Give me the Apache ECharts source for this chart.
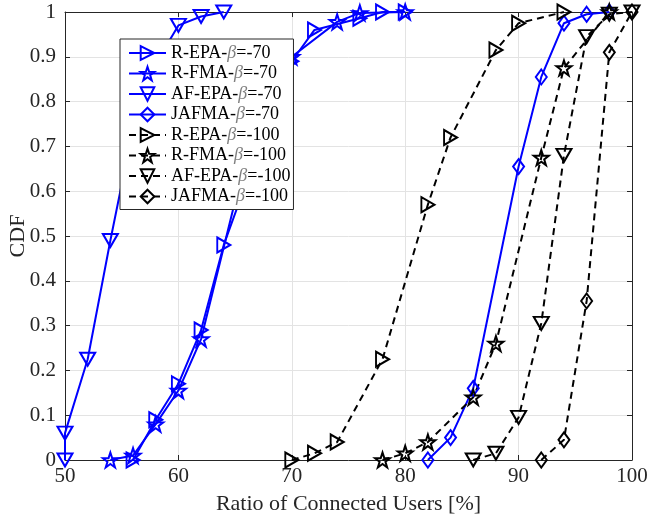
<!DOCTYPE html>
<html>
<head>
<meta charset="utf-8">
<script src="https://cdn.jsdelivr.net/npm/echarts@6/dist/echarts.min.js"></script>
<style>
    html, body { margin: 0; padding: 0; background: #fff; }
    #chart { width: 647px; height: 519px; }
</style>
</head>
<body>
<div id="chart"></div>
<script>
// tick labels
var xTicks = [50, 60, 70, 80, 90, 100];
var yTicks = [0, 0.1, 0.2, 0.3, 0.4, 0.5, 0.6, 0.7, 0.8, 0.9, 1];

// beta = -70 (blue, solid)
var rEpa70 = [[56, 0], [58, 0.09], [60, 0.17], [62, 0.29], [64, 0.48], [66, 0.62], [68, 0.78], [70, 0.89], [72, 0.96], [76, 0.986], [78, 1.0], [80, 1.0]];
var rFma70 = [[54, 0], [56, 0.01], [58, 0.08], [60, 0.155], [62, 0.27], [66, 0.68], [70, 0.9], [74, 0.978], [76, 0.998], [80, 1.0]];
var afEpa70 = [[50, 0], [50, 0.06], [52, 0.225], [54, 0.49], [56, 0.74], [58, 0.885], [60, 0.97], [62, 0.99], [64, 1.0]];
var jafma70 = [[82, 0], [84, 0.05], [86, 0.16], [90, 0.655], [92, 0.855], [94, 0.975], [96, 0.995], [98, 1.0]];

// beta = -100 (black, dashed)
var rEpa100 = [[70, 0], [72, 0.015], [74, 0.04], [78, 0.225], [82, 0.57], [84, 0.72], [88, 0.915], [90, 0.975], [94, 1.0]];
var rFma100 = [[78, 0], [80, 0.015], [82, 0.04], [86, 0.14], [88, 0.26], [92, 0.675], [94, 0.875], [98, 1.0]];
var afEpa100 = [[86, 0], [88, 0.015], [90, 0.095], [92, 0.305], [94, 0.68], [96, 0.945], [98, 0.995], [100, 1.0]];
var jafma100 = [[92, 0], [94, 0.045], [96, 0.355], [98, 0.91], [100, 1.0]];

var names = ['R-EPA-β=-70', 'R-FMA-β=-70', 'AF-EPA-β=-70', 'JAFMA-β=-70',
    'R-EPA-β=-100', 'R-FMA-β=-100', 'AF-EPA-β=-100', 'JAFMA-β=-100'];

function starPath() {
    var p = [];
    for (var i = 0; i < 10; i++) {
        var r = (i % 2 == 0) ? 10 : 3.9;
        var a = Math.PI / 180 * (-90 + 36 * i);
        p.push((i ? 'L' : 'M') + (10 + r * Math.cos(a)).toFixed(2) + ',' + (10 + r * Math.sin(a)).toFixed(2));
    }
    return 'path://' + p.join(' ') + ' Z';
}

var RIGHT = 'path://M0,0 L10,5 L0,10 Z';
var DOWN = 'path://M0,0 L10,0 L5,10 Z';
var STAR = starPath();

function mk(name, data, color, symbol, size, dashed) {
    return {
        name: name,
        type: 'line',
        data: data,
        clip: false,
        symbol: symbol,
        symbolSize: size,
        showAllSymbol: true,
        lineStyle: { color: color, width: 2, type: dashed ? [7, 5] : 'solid' },
        itemStyle: { color: 'rgba(255,255,255,0)', borderColor: color, borderWidth: 2 },
        emphasis: { disabled: true }
    };
}

var blue = '#0000ff';
var black = '#000000';
var fontFam = '"Liberation Serif", "DejaVu Serif", serif';

var myChart = echarts.init(document.getElementById('chart'));

option = {
    animation: false,
    backgroundColor: '#fff',
    grid: { left: 65, right: 15, top: 12, bottom: 59, containLabel: false, outerBoundsMode: 'none' },
    legend: {
        orient: 'vertical',
        left: 120,
        top: 39,
        data: names,
        itemWidth: 37,
        itemHeight: 17,
        itemGap: 2.5,
        padding: [5, 3, 4, 8],
        backgroundColor: '#fff',
        borderColor: '#262626',
        borderWidth: 1,
        borderRadius: 0,
        formatter: function (name) {
            var s = name.split('β');
            return '{t|' + s[0] + '}{b|β}{t|' + s[1] + '}';
        },
        textStyle: {
            fontFamily: fontFam,
            fontSize: 18,
            lineHeight: 16,
            color: '#000',
            rich: {
                t: { fontFamily: fontFam, fontSize: 18, color: '#000', lineHeight: 16 },
                b: { fontFamily: fontFam, fontSize: 18, color: '#808080', fontStyle: 'italic', lineHeight: 16 }
            }
        }
    },
    xAxis: [{
        type: 'value',
        min: 50,
        max: 100,
        interval: 10,
        name: 'Ratio of Connected Users [%]',
        nameLocation: 'middle',
        nameGap: 33,
        nameMoveOverlap: false,
        nameTextStyle: { fontFamily: fontFam, fontSize: 22, color: '#262626' },
        axisLine: { show: true, onZero: false, lineStyle: { color: '#262626', width: 1 } },
        axisTick: { show: true, inside: true, length: 5, lineStyle: { color: '#262626' } },
        axisLabel: { fontFamily: fontFam, fontSize: 21, color: '#262626', margin: 6 },
        splitLine: { show: true, lineStyle: { color: '#e3e3e3', width: 1 } }
    }, {
        type: 'value',
        position: 'top',
        min: 50,
        max: 100,
        interval: 10,
        axisLine: { show: true, onZero: false, lineStyle: { color: '#262626', width: 1 } },
        axisTick: { show: true, inside: true, length: 5, lineStyle: { color: '#262626' } },
        axisLabel: { show: false },
        splitLine: { show: false }
    }],
    yAxis: [{
        type: 'value',
        min: 0,
        max: 1,
        interval: 0.1,
        name: 'CDF',
        nameLocation: 'middle',
        nameGap: 36,
        nameMoveOverlap: false,
        nameTextStyle: { fontFamily: fontFam, fontSize: 22, color: '#262626' },
        axisLine: { show: true, onZero: false, lineStyle: { color: '#262626', width: 1 } },
        axisTick: { show: true, inside: true, length: 5, lineStyle: { color: '#262626' } },
        axisLabel: {
            fontFamily: fontFam, fontSize: 21, color: '#262626', margin: 9,
            formatter: function (v) { return String(Math.round(v * 10) / 10); }
        },
        splitLine: { show: true, lineStyle: { color: '#e3e3e3', width: 1 } }
    }, {
        type: 'value',
        position: 'right',
        min: 0,
        max: 1,
        interval: 0.1,
        axisLine: { show: true, onZero: false, lineStyle: { color: '#262626', width: 1 } },
        axisTick: { show: true, inside: true, length: 5, lineStyle: { color: '#262626' } },
        axisLabel: { show: false },
        splitLine: { show: false }
    }],
    series: [
        mk(names[0], rEpa70, blue, RIGHT, [13, 15], false),
        mk(names[1], rFma70, blue, STAR, [15, 15], false),
        mk(names[2], afEpa70, blue, DOWN, [15, 13], false),
        mk(names[3], jafma70, blue, 'diamond', [11, 15], false),
        mk(names[4], rEpa100, black, RIGHT, [13, 15], true),
        mk(names[5], rFma100, black, STAR, [15, 15], true),
        mk(names[6], afEpa100, black, DOWN, [15, 13], true),
        mk(names[7], jafma100, black, 'diamond', [11, 15], true)
    ]
};
myChart.setOption(option);
</script>
</body>
</html>
